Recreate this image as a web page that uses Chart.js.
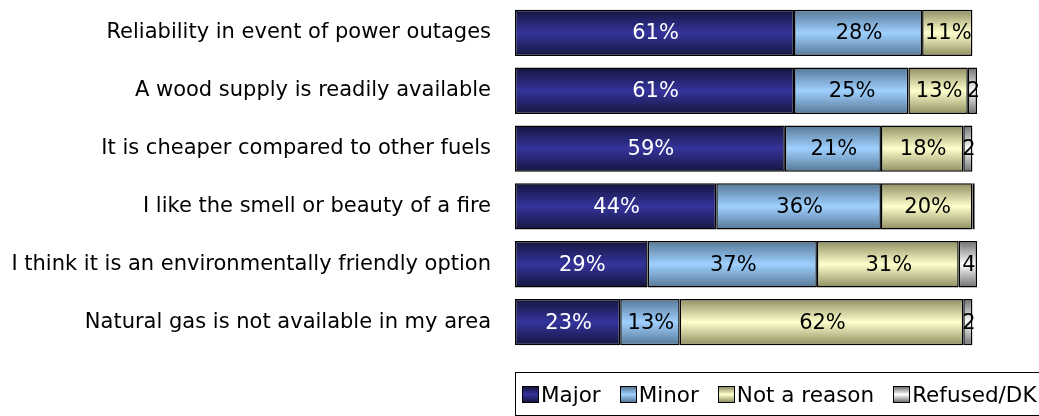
<!DOCTYPE html>
<html>
<head>
<meta charset="utf-8">
<script src="https://cdn.jsdelivr.net/npm/chart.js@4"></script>
<style>
  body { margin: 0; background: #fff; }
  #wrap { position: relative; width: 1039px; height: 416px; overflow: hidden; }
  #legend {
    position: absolute; left: 515px; top: 372px; width: 560px; height: 42px;
    border: 1px solid #000; font: 21.5px "DejaVu Sans", sans-serif; color: #000;
    display: flex; align-items: center; white-space: nowrap;
  }
  #legend span.item { display: inline-flex; align-items: center; margin-left: 6px; margin-right: 13px; }
  #legend i { display: inline-block; width: 15px; height: 15px; border: 1px solid #000; margin-right: 2px; }
</style>
</head>
<body>
<div id="wrap">
  <canvas id="chart" width="1039" height="416"></canvas>
  <div id="legend"></div>
</div>
<script>
const categories = [
  'Reliability in event of power outages',
  'A wood supply is readily available',
  'It is cheaper compared to other fuels',
  'I like the smell or beauty of a fire',
  'I think it is an environmentally friendly option',
  'Natural gas is not available in my area'
];
const seriesNames = ['Major', 'Minor', 'Not a reason', 'Refused/DK'];
const major = [61, 61, 59, 44, 29, 23];
const minor = [28, 25, 21, 36, 37, 13];
const notReason = [11, 13, 18, 20, 31, 62];
const refused = [0, 2, 2, 0.5, 4, 2];

// edge colour, middle colour for each series
const shades = [
  ['#15153f', '#34349c'],
  ['#567896', '#9fd0ff'],
  ['#8e8e62', '#ffffcc'],
  ['#6f6f6f', '#ffffff']
];

function barFill(i) {
  return function(ctx) {
    const chart = ctx.chart;
    const y = chart.scales.y;
    if (!y || !chart.chartArea) return shades[i][1];
    const band = (y.bottom - y.top) / categories.length;
    const c = y.getPixelForValue(ctx.dataIndex);
    const h = band * 0.8 / 2;
    const g = chart.ctx.createLinearGradient(0, c - h, 0, c + h);
    g.addColorStop(0, shades[i][0]);
    g.addColorStop(0.5, shades[i][1]);
    g.addColorStop(1, shades[i][0]);
    return g;
  };
}

const valueLabels = {
  id: 'valueLabels',
  afterDatasetsDraw(chart) {
    const ctx = chart.ctx;
    ctx.save();
    ctx.font = '21px "DejaVu Sans", sans-serif';
    ctx.textAlign = 'center';
    ctx.textBaseline = 'middle';
    chart.data.datasets.forEach((ds, di) => {
      const meta = chart.getDatasetMeta(di);
      meta.data.forEach((bar, i) => {
        const v = ds.data[i];
        if (v < 1) return;
        const txt = di === 3 ? String(v) : v + '%';
        const x0 = Math.min(bar.x, bar.base), x1 = Math.max(bar.x, bar.base);
        ctx.save();
        ctx.beginPath();
        ctx.rect(x0, bar.y - 22, x1 - x0 + 2, 44);
        ctx.clip();
        ctx.fillStyle = di === 0 ? '#fff' : '#000';
        ctx.fillText(txt, (x0 + x1) / 2 + 1, bar.y + 1);
        ctx.restore();
      });
    });
    ctx.restore();
  }
};

const values = [major, minor, notReason, refused];

new Chart(document.getElementById('chart'), {
  type: 'bar',
  data: {
    labels: categories,
    datasets: seriesNames.map((name, i) => ({
      label: name,
      data: values[i],
      backgroundColor: barFill(i),
      borderColor: '#000',
      borderWidth: 1.5,
      borderSkipped: false,
      barPercentage: 0.8,
      categoryPercentage: 1
    }))
  },
  options: {
    indexAxis: 'y',
    responsive: false,
    animation: false,
    layout: { padding: { top: 4, bottom: 65, right: 62, left: 0 } },
    scales: {
      x: { stacked: true, min: 0, max: 101, display: false },
      y: {
        stacked: true,
        grid: { display: false },
        border: { display: false },
        ticks: { color: '#000', padding: 16, font: { family: 'DejaVu Sans', size: 21 } },
        afterFit(scale) {
          scale.width = 515;
          scale.paddingTop = 0;
          scale.paddingBottom = 0;
        }
      }
    },
    plugins: { legend: { display: false }, tooltip: { enabled: false } }
  },
  plugins: [valueLabels]
});

// legend in a bordered box under the bars
const legend = document.getElementById('legend');
seriesNames.forEach((name, i) => {
  const item = document.createElement('span');
  item.className = 'item';
  const sw = document.createElement('i');
  sw.style.background = 'linear-gradient(' + shades[i][0] + ',' + shades[i][1] + ',' + shades[i][0] + ')';
  item.appendChild(sw);
  item.appendChild(document.createTextNode(name));
  legend.appendChild(item);
});
</script>
</body>
</html>
